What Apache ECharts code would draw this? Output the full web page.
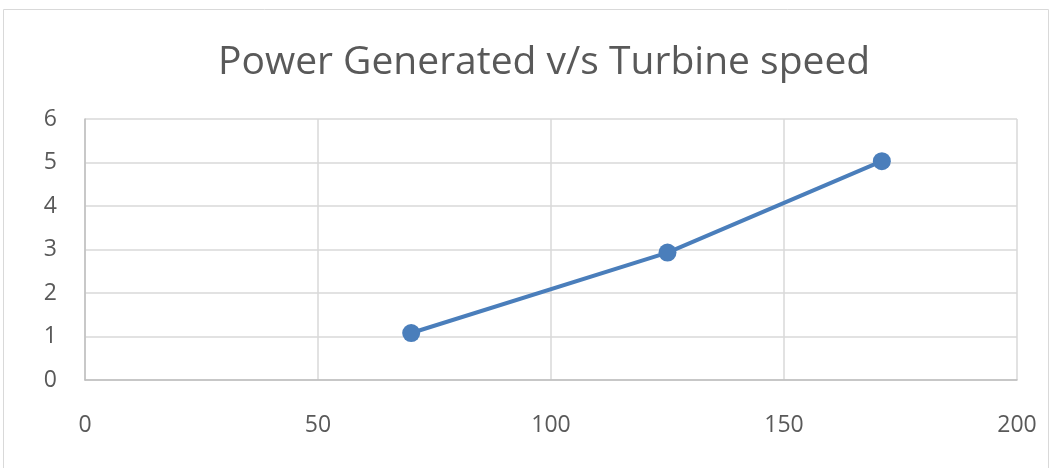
<!DOCTYPE html>
<html>
<head>
<meta charset="utf-8">
<script src="https://cdn.jsdelivr.net/npm/echarts@6/dist/echarts.min.js"></script>
<style>
  html, body { margin: 0; padding: 0; background: #fff; }
  #chart { width: 1063px; height: 468px; }
</style>
</head>
<body>
<div id="chart"></div>
<script>
// turbine speed vs power generated
const turbineSpeed = [70, 125, 171];
const powerGenerated = [1.08, 2.93, 5.03];

const chart = echarts.init(document.getElementById('chart'));
const labelColor = '#595959';

chart.setOption({
    animation: false,
    graphic: [{
        type: 'rect',
        shape: { x: 3.5, y: 9.5, width: 1045, height: 470 },
        style: { fill: 'none', stroke: '#d9d9d9', lineWidth: 1 }
    }],
    title: {
        text: 'Power Generated v/s Turbine speed',
        left: 213,
        top: 38,
        textStyle: {
            fontFamily: 'Open Sans',
            fontWeight: 'normal',
            fontSize: 39,
            color: labelColor
        }
    },
    grid: { left: 85, right: 46, top: 119, bottom: 88 },
    xAxis: {
        type: 'value',
        min: 0,
        max: 200,
        interval: 50,
        axisLine: { show: true, lineStyle: { color: '#bfbfbf', width: 1.5 } },
        axisTick: { show: false },
        splitLine: { show: true, lineStyle: { color: '#d9d9d9', width: 1.5 } },
        axisLabel: { color: labelColor, fontSize: 23, fontFamily: 'Open Sans', margin: 34 }
    },
    yAxis: {
        type: 'value',
        min: 0,
        max: 6,
        interval: 1,
        axisLine: { show: true, lineStyle: { color: '#bfbfbf', width: 1.5 } },
        axisTick: { show: false },
        splitLine: { show: true, lineStyle: { color: '#d9d9d9', width: 1.5 } },
        axisLabel: { color: labelColor, fontSize: 23, fontFamily: 'Open Sans', margin: 28 }
    },
    series: [{
        type: 'line',
        data: turbineSpeed.map((s, i) => [s, powerGenerated[i]]),
        symbol: 'circle',
        symbolSize: 18,
        lineStyle: { color: '#4a7ebb', width: 4 },
        itemStyle: { color: '#4a7ebb' }
    }]
});
</script>
</body>
</html>
